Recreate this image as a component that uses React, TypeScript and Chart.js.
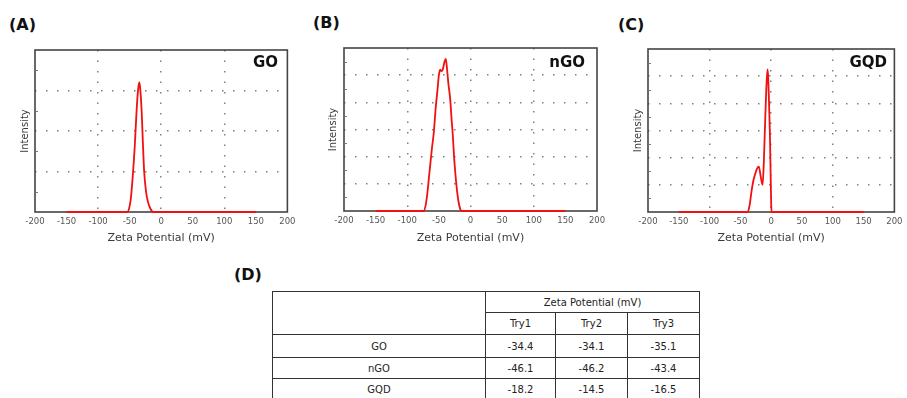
import React, { useEffect, useRef } from "react";
import { Chart, registerables } from "chart.js";

Chart.register(...registerables);

// ---------- data ----------
const xTickValues = [-200, -150, -100, -50, 0, 50, 100, 150, 200];
const xGridValues = [-100, 0, 100];
const panelLetters = ["(A)", "(B)", "(C)", "(D)"];
const sampleNames = ["GO", "nGO", "GQD"];
const xAxisTitle = "Zeta Potential (mV)";
const yAxisTitle = "Intensity";

const goX = [-150, -53, -50, -48, -45, -42, -40, -38, -36, -34.5, -33, -31, -29, -27, -24, -21, -17, -13, 150];
const goY = [0, 0, 0.15, 0.35, 0.9, 1.6, 2.2, 2.75, 3.1, 3.2, 3.0, 2.5, 1.7, 1.0, 0.5, 0.25, 0.08, 0, 0];

const ngoX = [-150, -74, -71, -68, -65, -61, -58, -55, -52, -50, -48, -46, -44, -41, -39, -37, -35, -32, -30, -28, -26, -24, -22, -19, -16, -15, 150];
const ngoY = [0, 0, 0.2, 0.7, 1.4, 2.3, 2.9, 3.8, 4.5, 5.0, 5.2, 5.15, 5.2, 5.5, 5.6, 5.2, 4.7, 4.1, 3.4, 2.8, 2.0, 1.4, 0.9, 0.35, 0.05, 0, 0];

const gqdX = [-150, -38, -35, -32, -29, -26, -23, -20, -17, -14, -12, -10, -8, -6, -5, -3.5, -2, -1, 0, 0.5, 150];
const gqdY = [0, 0, 0.25, 0.75, 1.15, 1.4, 1.6, 1.67, 1.3, 1.0, 1.8, 3.2, 4.5, 5.25, 5.0, 4.0, 2.8, 1.5, 0.3, 0, 0];

const tableHeader = "Zeta Potential (mV)";
const tryLabels = ["Try1", "Try2", "Try3"];
const zetaGO = [-34.4, -34.1, -35.1];
const zetaNGO = [-46.1, -46.2, -43.4];
const zetaGQD = [-18.2, -14.5, -16.5];

// ---------- chart ----------
const FONT = "'DejaVu Sans', Verdana, sans-serif";

const framePlugin = {
  id: "frame",
  beforeDatasetsDraw(chart: any) {
    const { ctx, chartArea } = chart;
    const y = chart.scales.y;
    ctx.save();
    ctx.strokeStyle = "#444";
    ctx.lineWidth = 1.6;
    ctx.strokeRect(chartArea.left, chartArea.top, chartArea.right - chartArea.left, chartArea.bottom - chartArea.top);
    ctx.lineWidth = 1;
    ctx.strokeStyle = "#777";
    for (let v = 0.5; v < y.max; v += 1) {
      const py = Math.round(y.getPixelForValue(v)) + 0.5;
      ctx.beginPath();
      ctx.moveTo(chartArea.left, py);
      ctx.lineTo(chartArea.left + 3, py);
      ctx.stroke();
    }
    ctx.restore();
  },
};

type PanelProps = {
  xs: number[];
  ys: number[];
  yMax: number;
  left: number;
  width: number;
  yWidth: number;
  yTitlePad: number;
  padTop: number;
  padRight: number;
  xHeight: number;
};

function Panel(p: PanelProps) {
  const ref = useRef<HTMLCanvasElement | null>(null);
  useEffect(() => {
    if (!ref.current) return;
    const data = p.xs.map((x, i) => ({ x, y: p.ys[i] }));
    const chart = new Chart(ref.current, {
      type: "line",
      data: {
        datasets: [
          {
            data,
            borderColor: "#f01010",
            borderWidth: 1.8,
            pointRadius: 0,
            cubicInterpolationMode: "monotone",
            fill: false,
            clip: false,
          },
        ],
      },
      options: {
        animation: false,
        responsive: false,
        maintainAspectRatio: false,
        plugins: { legend: { display: false }, tooltip: { enabled: false } },
        layout: { padding: { top: p.padTop, right: p.padRight, left: 0, bottom: 0 } },
        scales: {
          x: {
            type: "linear",
            min: -200,
            max: 200,
            afterBuildTicks: (s: any) => {
              s.ticks = xTickValues.map((v) => ({ value: v }));
            },
            afterFit: (s: any) => {
              s.height = p.xHeight;
            },
            ticks: {
              font: { family: FONT, size: 8.5 },
              color: "#555",
              padding: 4.5,
              maxRotation: 0,
              autoSkip: false,
            },
            grid: {
              drawTicks: false,
              lineWidth: 1.5,
              color: (c: any) => (c.tick && xGridValues.includes(c.tick.value) ? "#808080" : "transparent"),
            },
            border: { display: false, dash: [1.5, 9] },
            title: {
              display: true,
              text: xAxisTitle,
              color: "#3a3a3a",
              font: { family: FONT, size: 11 },
              padding: { top: 0, bottom: 5.4 },
            },
          },
          y: {
            type: "linear",
            min: 0,
            max: p.yMax,
            ticks: { display: false, stepSize: 1 },
            afterFit: (s: any) => {
              s.width = p.yWidth;
            },
            grid: {
              drawTicks: false,
              lineWidth: 1.5,
              color: (c: any) => (c.tick && c.tick.value > 0 && c.tick.value < p.yMax ? "#808080" : "transparent"),
            },
            border: { display: false, dash: [1.5, 9.5] },
            title: {
              display: true,
              text: yAxisTitle,
              color: "#3a3a3a",
              font: { family: FONT, size: 10 },
              padding: { top: p.yTitlePad, bottom: 0 },
            },
          },
        },
      },
      plugins: [framePlugin],
    } as any);
    return () => chart.destroy();
  }, []);
  return (
    <canvas
      ref={ref}
      width={p.width}
      height={210}
      style={{ position: "absolute", left: p.left, top: 40, width: p.width, height: 210 }}
    />
  );
}

const letterStyle: React.CSSProperties = {
  position: "absolute",
  fontFamily: FONT,
  fontWeight: "bold",
  fontSize: 16,
  lineHeight: "16px",
  color: "#111",
  whiteSpace: "nowrap",
};

const nameStyle: React.CSSProperties = {
  position: "absolute",
  fontFamily: FONT,
  fontWeight: "bold",
  fontSize: 15,
  lineHeight: "15px",
  color: "#111",
  whiteSpace: "nowrap",
};

const cell: React.CSSProperties = {
  border: "1px solid #333",
  padding: 0,
  textAlign: "center",
  verticalAlign: "middle",
};

export default function App() {
  const rows = [zetaGO, zetaNGO, zetaGQD];
  return (
    <div style={{ position: "absolute", left: 0, top: 0, width: 907, height: 398, background: "#fff", overflow: "hidden" }}>
      <Panel xs={goX} ys={goY} yMax={4} left={0} width={300} yWidth={35} yTitlePad={19} padTop={10} padRight={12} xHeight={38} />
      <Panel xs={ngoX} ys={ngoY} yMax={6} left={300} width={310} yWidth={44} yTitlePad={27} padTop={8} padRight={13} xHeight={39} />
      <Panel xs={gqdX} ys={gqdY} yMax={6} left={600} width={307} yWidth={48} yTitlePad={32} padTop={9} padRight={12} xHeight={38} />

      <div style={{ ...letterStyle, left: 9, top: 17 }}>{panelLetters[0]}</div>
      <div style={{ ...letterStyle, left: 313, top: 15 }}>{panelLetters[1]}</div>
      <div style={{ ...letterStyle, left: 618, top: 17 }}>{panelLetters[2]}</div>
      <div style={{ ...letterStyle, left: 234, top: 267 }}>{panelLetters[3]}</div>

      <div style={{ ...nameStyle, right: 907 - 278, top: 55 }}>{sampleNames[0]}</div>
      <div style={{ ...nameStyle, right: 907 - 585, top: 55 }}>{sampleNames[1]}</div>
      <div style={{ ...nameStyle, right: 907 - 887, top: 55 }}>{sampleNames[2]}</div>

      <table
        style={{
          position: "absolute",
          left: 272,
          top: 291,
          width: 427,
          borderCollapse: "collapse",
          tableLayout: "fixed",
          fontFamily: FONT,
          fontSize: 10,
          color: "#222",
        }}
      >
        <colgroup>
          <col style={{ width: 213 }} />
          <col style={{ width: 70 }} />
          <col style={{ width: 72 }} />
          <col style={{ width: 72 }} />
        </colgroup>
        <tbody>
          <tr style={{ height: 21 }}>
            <td style={cell} rowSpan={2}></td>
            <td style={cell} colSpan={3}>{tableHeader}</td>
          </tr>
          <tr style={{ height: 22 }}>
            {tryLabels.map((t) => (
              <td key={t} style={cell}>{t}</td>
            ))}
          </tr>
          {rows.map((r, i) => (
            <tr key={sampleNames[i]} style={{ height: i === 0 ? 23 : 21 }}>
              <td style={cell}>{sampleNames[i]}</td>
              {r.map((v, j) => (
                <td key={j} style={cell}>{v.toFixed(1)}</td>
              ))}
            </tr>
          ))}
        </tbody>
      </table>
    </div>
  );
}
